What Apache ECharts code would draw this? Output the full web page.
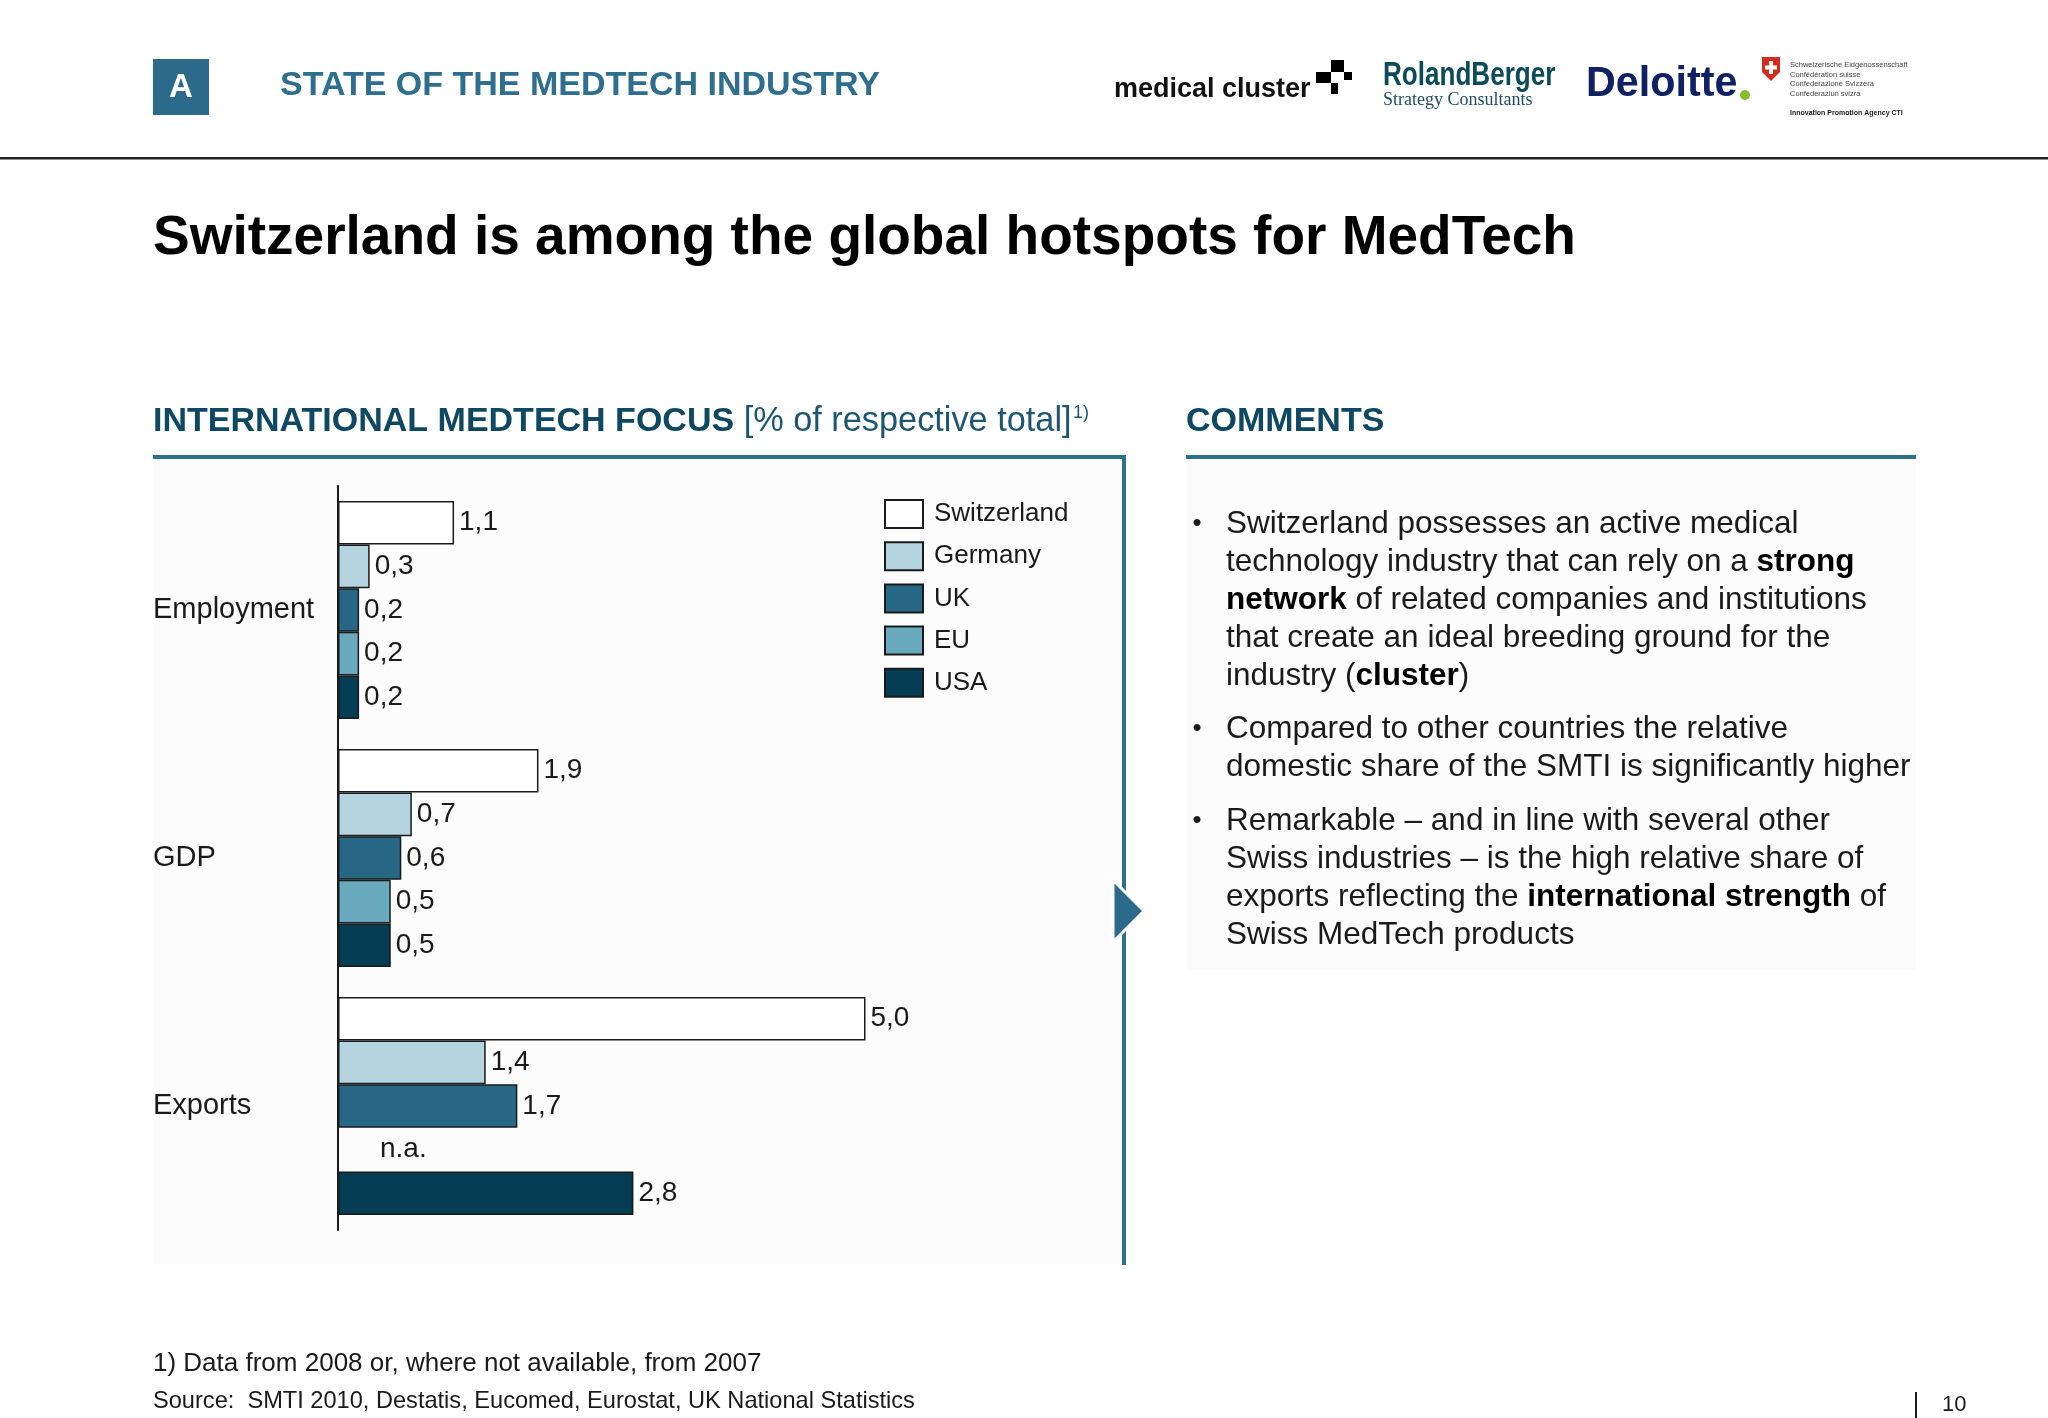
<!DOCTYPE html>
<html>
<head>
<meta charset="utf-8">
<script src="https://cdn.jsdelivr.net/npm/echarts@6/dist/echarts.min.js"></script>
<style>
html,body{margin:0;padding:0;background:#fff;}
#c{width:2048px;height:1418px;}
</style>
</head>
<body>
<div id="c"></div>
<script>
// ---- data ----
var categories = ['Employment', 'GDP', 'Exports'];
var seriesNames = ['Switzerland', 'Germany', 'UK', 'EU', 'USA'];
var switzerland = [1.1, 1.9, 5.0];
var germany = [0.3, 0.7, 1.4];
var uk = [0.2, 0.6, 1.7];
var eu = [0.2, 0.5, null]; // null = n.a.
var usa = [0.2, 0.5, 2.8];
var xTicksMax = 6;

var colors = ['#ffffff', '#b4d4df', '#276886', '#6aaabf', '#053e54'];
var FONT = '"Liberation Sans", Arial, Helvetica, sans-serif';

function fmt(v) { return v.toFixed(1).replace('.', ','); }

function buildData(arr) {
  return arr.map(function (v) {
    if (v === null) {
      return {
        value: 0,
        itemStyle: { borderWidth: 0, color: 'rgba(0,0,0,0)', borderColor: 'rgba(0,0,0,0)' },
        label: { show: true, formatter: 'n.a.', distance: 42 }
      };
    }
    return v;
  });
}

var allValues = [switzerland, germany, uk, eu, usa];
var series = seriesNames.map(function (name, i) {
  return {
    name: name,
    type: 'bar',
    data: buildData(allValues[i]),
    barGap: '0%',
    barCategoryGap: '12%',
    itemStyle: { color: colors[i], borderColor: '#1a1a1a', borderWidth: 1.5 },
    label: {
      show: true,
      position: 'right',
      distance: 5,
      fontFamily: FONT,
      fontSize: 28,
      color: '#1a1a1a',
      formatter: function (p) { return p.data && p.data.label ? 'n.a.' : fmt(p.value); }
    },
    emphasis: { disabled: true },
    animation: false
  };
});

// ---- comments text lines ----
var commentLines = [
  { y: 524, bullet: true, t: '{n|Switzerland possesses an active medical}' },
  { y: 562, t: '{n|technology industry that can rely on a }{b|strong}' },
  { y: 600, t: '{b|network}{n| of related companies and institutions}' },
  { y: 638, t: '{n|that create an ideal breeding ground for the}' },
  { y: 676, t: '{n|industry (}{b|cluster}{n|)}' },
  { y: 729, bullet: true, t: '{n|Compared to other countries the relative}' },
  { y: 767, t: '{n|domestic share of the SMTI is significantly higher}' },
  { y: 821, bullet: true, t: '{n|Remarkable \u2013 and in line with several other}' },
  { y: 859, t: '{n|Swiss industries \u2013 is the high relative share of}' },
  { y: 897, t: '{n|exports reflecting the }{b|international strength}{n| of}' },
  { y: 935, t: '{n|Swiss MedTech products}' }
];

var graphics = [];
// panel backgrounds
graphics.push({ type: 'rect', shape: { x: 153, y: 460, width: 970, height: 804 }, style: { fill: '#fcfcfd' }, z: -10 });
graphics.push({ type: 'rect', shape: { x: 1186, y: 460, width: 730, height: 510 }, style: { fill: '#fcfcfd' }, z: -10 });

// header box A
graphics.push({ type: 'rect', shape: { x: 153, y: 59, width: 56, height: 56 }, style: { fill: '#2b6a8a' } });
graphics.push({ type: 'text', style: { text: 'A', x: 181, y: 88, fill: '#ffffff', font: 'bold 33px ' + FONT, align: 'center', verticalAlign: 'middle' } });
graphics.push({ type: 'text', style: { text: 'STATE OF THE MEDTECH INDUSTRY', x: 280, y: 86, fill: '#2e6e8e', font: 'bold 34px ' + FONT, verticalAlign: 'middle' } });

// logos
graphics.push({ type: 'text', style: { text: 'medical cluster', x: 1114, y: 90, fill: '#111111', font: 'bold 27px ' + FONT, verticalAlign: 'middle' } });
[[1331, 60, 13, 12], [1316, 72, 15, 11], [1344, 72, 8, 8], [1331, 83, 7, 11]].forEach(function (r) {
  graphics.push({ type: 'rect', shape: { x: r[0], y: r[1], width: r[2], height: r[3] }, style: { fill: '#000000' } });
});
graphics.push({ type: 'text', x: 1383, y: 76, scaleX: 0.79, style: { text: 'RolandBerger', x: 0, y: 0, fill: '#0b4b5b', font: 'bold 33px ' + FONT, verticalAlign: 'middle' } });
graphics.push({ type: 'text', style: { text: 'Strategy Consultants', x: 1383, y: 100, fill: '#1f5060', font: '18px "Liberation Serif", "DejaVu Serif", serif', verticalAlign: 'middle' } });
graphics.push({ type: 'text', x: 1586, y: 84, scaleX: 0.96, style: { text: 'Deloitte', x: 0, y: 0, fill: '#0f2163', font: 'bold 43px ' + FONT, verticalAlign: 'middle' } });
graphics.push({ type: 'circle', shape: { cx: 1745, cy: 95, r: 5 }, style: { fill: '#86bc25' } });
graphics.push({ type: 'polygon', shape: { points: [[1762, 57], [1780, 57], [1780, 72], [1771, 81], [1762, 72]] }, style: { fill: '#d52b1e' } });
graphics.push({ type: 'rect', shape: { x: 1769, y: 61, width: 4, height: 13 }, style: { fill: '#ffffff' } });
graphics.push({ type: 'rect', shape: { x: 1765, y: 65.5, width: 12, height: 4 }, style: { fill: '#ffffff' } });
['Schweizerische Eidgenossenschaft', 'Conf\u00e9d\u00e9ration suisse', 'Confederazione Svizzera', 'Confederaziun svizra'].forEach(function (s, i) {
  graphics.push({ type: 'text', style: { text: s, x: 1790, y: 65 + i * 9.6, fill: '#444444', font: '7.5px ' + FONT, verticalAlign: 'middle' } });
});
graphics.push({ type: 'text', style: { text: 'Innovation Promotion Agency CTI', x: 1790, y: 113, fill: '#222222', font: 'bold 7px ' + FONT, verticalAlign: 'middle' } });

// top rule
graphics.push({ type: 'rect', shape: { x: 0, y: 157, width: 2048, height: 2.5 }, style: { fill: '#222222' } });

// title
graphics.push({ type: 'text', style: { text: 'Switzerland is among the global hotspots for MedTech', x: 153, y: 239, fill: '#000000', font: 'bold 55px ' + FONT, verticalAlign: 'middle' } });

// section headers
graphics.push({
  type: 'text',
  style: {
    text: '{b|INTERNATIONAL MEDTECH FOCUS}{n| [% of respective total]}',
    x: 153, y: 422, verticalAlign: 'middle',
    rich: {
      b: { font: 'bold 34px ' + FONT, fill: '#0e4862' },
      n: { font: '34.3px ' + FONT, fill: '#1d5672' }
    }
  }
});
graphics.push({ type: 'text', style: { text: '1)', x: 1073, y: 413, fill: '#1d5672', font: '18px ' + FONT, verticalAlign: 'middle' } });
graphics.push({ type: 'text', style: { text: 'COMMENTS', x: 1186, y: 422, fill: '#0e4862', font: 'bold 34px ' + FONT, verticalAlign: 'middle' } });

// section rules
graphics.push({ type: 'rect', shape: { x: 153, y: 455, width: 973, height: 4 }, style: { fill: '#2e6f8e' } });
graphics.push({ type: 'rect', shape: { x: 1122, y: 455, width: 4, height: 810 }, style: { fill: '#2e6f8e' } });
graphics.push({ type: 'rect', shape: { x: 1186, y: 455, width: 730, height: 4 }, style: { fill: '#2e6f8e' } });
graphics.push({ type: 'polygon', shape: { points: [[1113, 880], [1144, 911], [1113, 942]] }, style: { fill: '#2b6a8a', stroke: '#ffffff', lineWidth: 3 }, z: 10 });

// comments
commentLines.forEach(function (l) {
  if (l.bullet) {
    graphics.push({ type: 'text', style: { text: '\u2022', x: 1197, y: l.y, fill: '#1a1a1a', font: '26px ' + FONT, align: 'center', verticalAlign: 'middle' } });
  }
  graphics.push({
    type: 'text',
    style: {
      text: l.t, x: 1226, y: l.y, verticalAlign: 'middle',
      rich: {
        n: { font: '31.5px ' + FONT, fill: '#1a1a1a' },
        b: { font: 'bold 31.5px ' + FONT, fill: '#000000' }
      }
    }
  });
});

// footnotes
graphics.push({ type: 'text', style: { text: '1) Data from 2008 or, where not available, from 2007', x: 153, y: 1364, fill: '#1a1a1a', font: '26px ' + FONT, verticalAlign: 'middle' } });
graphics.push({ type: 'text', style: { text: 'Source:  SMTI 2010, Destatis, Eucomed, Eurostat, UK National Statistics', x: 153, y: 1401, fill: '#1a1a1a', font: '23.6px ' + FONT, verticalAlign: 'middle' } });
graphics.push({ type: 'rect', shape: { x: 1915, y: 1392, width: 2, height: 26 }, style: { fill: '#1a1a1a' } });
graphics.push({ type: 'text', style: { text: '10', x: 1942, y: 1405, fill: '#1a1a1a', font: '22px ' + FONT, verticalAlign: 'middle' } });

var chart = echarts.init(document.getElementById('c'), null, { renderer: 'canvas' });
chart.setOption({
  backgroundColor: '#ffffff',
  animation: false,
  textStyle: { fontFamily: FONT },
  grid: { left: 338, top: 486, width: 633, height: 744, containLabel: false },
  xAxis: {
    type: 'value', min: 0, max: xTicksMax, interval: 1,
    show: false, splitLine: { show: false }
  },
  yAxis: {
    type: 'category',
    data: categories,
    inverse: true,
    axisLine: { show: true, lineStyle: { color: '#1a1a1a', width: 2 } },
    axisTick: { show: false },
    axisLabel: { align: 'left', margin: 185, fontSize: 29, color: '#1a1a1a', fontFamily: FONT },
    splitLine: { show: false }
  },
  legend: {
    data: seriesNames,
    orient: 'vertical',
    left: 884,
    top: 499,
    padding: 0,
    itemWidth: 38,
    itemHeight: 28,
    itemGap: 12.2,
    icon: 'rect',
    selectedMode: false,
    textStyle: { fontSize: 26, lineHeight: 28, color: '#1a1a1a', fontFamily: FONT, padding: [0, 0, 0, 6] }
  },
  series: series,
  graphic: { elements: graphics }
});
</script>
</body>
</html>
